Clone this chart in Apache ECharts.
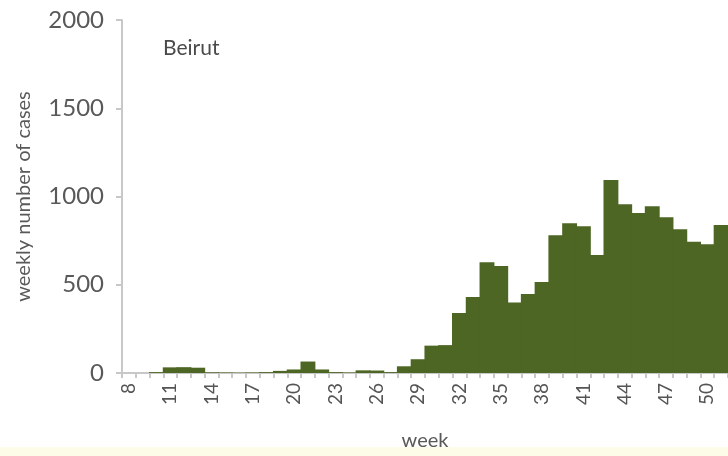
<!DOCTYPE html>
<html>
<head>
<meta charset="utf-8">
<script src="https://cdn.jsdelivr.net/npm/echarts@6/dist/echarts.min.js"></script>
<style>html,body{margin:0;padding:0;background:#fff}#c{width:728px;height:456px}</style>
</head>
<body>
<div id="c"></div>
<script>
var weeks = ['8','9','10','11','12','13','14','15','16','17','18','19','20','21','22','23','24','25','26','27','28','29','30','31','32','33','34','35','36','37','38','39','40','41','42','43','44','45','46','47','48','49','50','51'];
var cases = [0,0,5,32,33,30,4,3,2,3,5,12,20,65,20,5,3,15,14,5,38,78,155,158,340,430,628,606,400,447,515,781,849,832,668,1094,956,906,945,883,815,743,730,838];
var yTicks = [0,500,1000,1500,2000];
var title = 'Beirut';

var chart = echarts.init(document.getElementById('c'), null, {renderer:'canvas'});
var font = 'Lato, "Open Sans", sans-serif';
chart.setOption({
  backgroundColor:'#ffffff',
  animation:false,
  title:{text:title,left:158,top:33,textStyle:{fontFamily:font,fontSize:21,fontWeight:'normal',color:'#4a4a4a'}},
  grid:{left:122,right:-6,top:20,bottom:83,containLabel:false},
  xAxis:{
    type:'category',data:weeks,boundaryGap:true,
    name:'week',nameLocation:'middle',nameGap:58,
    nameTextStyle:{fontFamily:font,fontSize:20,color:'#595959'},
    axisLine:{lineStyle:{color:'#c8c8c8',width:2}},
    axisTick:{show:true,interval:0,length:5,lineStyle:{color:'#c8c8c8',width:2}},
    axisLabel:{interval:2,rotate:90,fontFamily:font,fontSize:19,color:'#555555',margin:10}
  },
  yAxis:{
    type:'value',min:yTicks[0],max:yTicks[yTicks.length-1],interval:500,
    name:'weekly number of cases',nameLocation:'middle',nameGap:88,
    nameTextStyle:{fontFamily:font,fontSize:20,color:'#595959'},
    axisLine:{show:true,lineStyle:{color:'#c8c8c8',width:2}},
    axisTick:{show:true,length:6,lineStyle:{color:'#c8c8c8',width:2}},
    splitLine:{show:false},
    axisLabel:{fontFamily:font,fontSize:24,color:'#595959',margin:18,formatter:function(v){return String(v);}}
  },
  graphic:[{type:'rect',shape:{x:0,y:447,width:728,height:9},style:{fill:'#fcfce8'},z:-1}],
  series:[{type:'bar',data:cases,barWidth:'108%',itemStyle:{color:'#4d6623',borderWidth:0}}]
});
</script>
</body>
</html>
